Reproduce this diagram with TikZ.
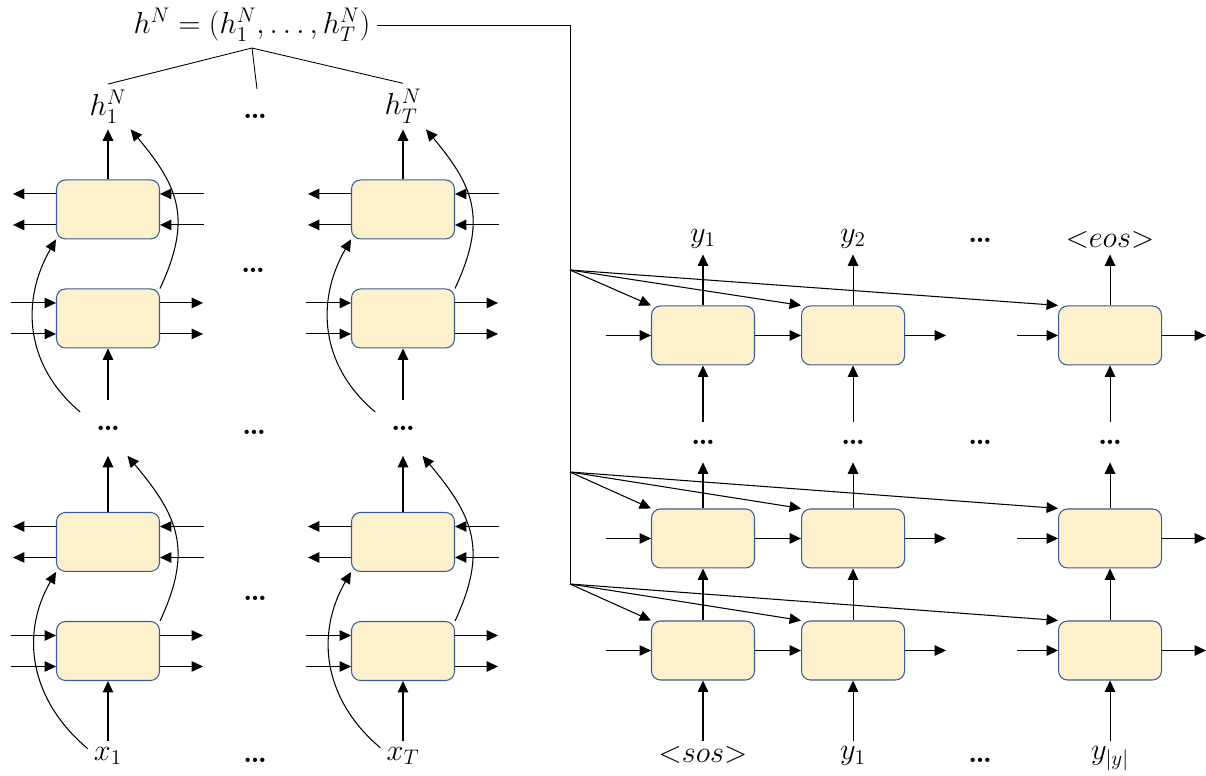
\documentclass[tikz,border=0pt]{standalone}
\usepackage{amsmath}
\usetikzlibrary{arrows.meta,positioning}

\definecolor{cellfill}{RGB}{252,240,205}
\definecolor{celldraw}{RGB}{62,90,150}

\begin{document}
\begin{tikzpicture}[
    x=0.02cm, y=-0.02cm,
    font=\fontsize{17}{20}\selectfont,
    cell/.style={
        draw=celldraw,
        fill=cellfill,
        rectangle,
        rounded corners=0.18cm,
        line width=0.6pt,
        minimum width=2.06cm,
        minimum height=1.18cm
    },
    elide/.style={
        font=\fontsize{17}{20}\selectfont\bfseries
    },
    stack/.style={
        elide,
        minimum width=1.1cm,
        minimum height=1.1cm
    },
    dstack/.style={
        elide,
        minimum height=0.8cm
    },
    arrow/.style={
        -{Triangle[length=6.5pt,width=6pt]},
        line width=0.6pt
    },
    wire/.style={
        line width=0.5pt
    }
]
\useasboundingbox (0,0) rectangle (1206,776);

% Encoder, first position
\node[cell] (f1a) at (108,651) {};
\node[cell, above=0.98cm of f1a] (b1a) {};
\node[cell, above=3.27cm of b1a] (f1b) {};
\node[cell, above=0.98cm of f1b] (b1b) {};
\node[below=1.2cm of f1a] (x1) {$x_1$};
\node[stack] (m1) at (f1b |- 0,428) {\dots};
\node[above=1cm of b1b] (h1) {$h_1^N$};

% Encoder, last position
\node[cell] (fTa) at (403,651) {};
\node[cell, above=0.98cm of fTa] (bTa) {};
\node[cell, above=3.27cm of bTa] (fTb) {};
\node[cell, above=0.98cm of fTb] (bTb) {};
\node[below=1.2cm of fTa] (xT) {$x_T$};
\node[stack] (mT) at (fTb |- 0,428) {\dots};
\node[above=1cm of bTb] (hT) {$h_T^N$};

% Skipped positions
\node[elide] (g1) at (255,116) {\dots};
\node[elide] (g2) at (253,270) {\dots};
\node[elide] (g3) at (254,432) {\dots};
\node[elide] (g4) at (255,598) {\dots};
\node[elide] (g5) at (255,760) {\dots};
\node[elide] (g6) at (980,240) {\dots};
\node[elide] (g7) at (980,442) {\dots};
\node[elide] (g8) at (980,760) {\dots};

% Encoder output
\node (hN) at (252,25) {$h^N = (h_1^N, \dots, h_T^N)$};
\coordinate (hmid) at (257,89);

% Decoder, bottom layer
\node[cell] (da1) at (703,650.5) {};
\node[cell, right=0.92cm of da1] (da2) {};
\node[cell, right=3.06cm of da2] (da3) {};
% Decoder, second layer
\node[cell, above=1.04cm of da1] (db1) {};
\node[cell, above=1.04cm of da2] (db2) {};
\node[cell, above=1.04cm of da3] (db3) {};
% Decoder, top layer
\node[cell, above=2.86cm of db1] (dc1) {};
\node[cell, above=2.86cm of db2] (dc2) {};
\node[cell, above=2.86cm of db3] (dc3) {};
\node[dstack] (md1) at (db1 |- 0,442) {\dots};
\node[dstack] (md2) at (db2 |- 0,442) {\dots};
\node[dstack] (md3) at (db3 |- 0,442) {\dots};

% Decoder inputs and outputs
\node[below=1.2cm of da1] (s1) {${<}sos{>}$};
\node[below=1.2cm of da2] (s2) {$y_1$};
\node[below=1.2cm of da3] (s3) {$y_{|y|}$};
\node[above=1.02cm of dc1] (o1) {$y_1$};
\node[above=1.02cm of dc2] (o2) {$y_2$};
\node[above=1.02cm of dc3] (o3) {${<}eos{>}$};

% Gathering the encoder states
\draw[wire] (hN.south) -- (h1.north);
\draw[wire] (hN.south) -- (hmid);
\draw[wire] (hN.south) -- (hT.north);

% Column 1
\draw[arrow] (x1) -- (f1a);
\draw[arrow] (x1.160) to[out=140, in=-120, looseness=1.05] (b1a.south west);
\draw[arrow] (b1a) -- (m1);
\draw[arrow] (f1a.north east) to[out=65, in=-50, looseness=1.2] (m1.-55);
\draw[arrow] (m1) -- (f1b);
\draw[arrow] (m1.150) to[out=140, in=-120, looseness=1.05] (b1b.south west);
\draw[arrow] (b1b) -- (h1);
\draw[arrow] (f1b.north east) to[out=65, in=-50, looseness=1.2] (h1.-45);

% Column T
\draw[arrow] (xT) -- (fTa);
\draw[arrow] (xT.160) to[out=140, in=-120, looseness=1.05] (bTa.south west);
\draw[arrow] (bTa) -- (mT);
\draw[arrow] (fTa.north east) to[out=65, in=-50, looseness=1.2] (mT.-55);
\draw[arrow] (mT) -- (fTb);
\draw[arrow] (mT.150) to[out=140, in=-120, looseness=1.05] (bTb.south west);
\draw[arrow] (bTb) -- (hT);
\draw[arrow] (fTb.north east) to[out=65, in=-50, looseness=1.2] (hT.-45);

% Forward and backward recurrences
\foreach \c in {f1a,f1b,fTa,fTb} {
    \foreach \dy in {0.31cm,-0.31cm} {
        \draw[arrow] ([xshift=-0.9cm,yshift=\dy]\c.west) -- ([yshift=\dy]\c.west);
        \draw[arrow] ([yshift=\dy]\c.east) -- ([xshift=0.86cm,yshift=\dy]\c.east);
    }
}
\foreach \c in {b1a,b1b,bTa,bTb} {
    \foreach \dy in {0.31cm,-0.31cm} {
        \draw[arrow] ([yshift=\dy]\c.west) -- ([xshift=-0.86cm,yshift=\dy]\c.west);
        \draw[arrow] ([xshift=0.88cm,yshift=\dy]\c.east) -- ([yshift=\dy]\c.east);
    }
}

% Encoder states to every decoder layer
\coordinate (tapc) at (570,270);
\coordinate (tapb) at (570,472);
\coordinate (tapa) at (570,584);
\draw[wire] (hN.east) -| (tapa);
\foreach \r in {a,b,c} {
    \foreach \k in {1,2,3}
        \draw[arrow] (tap\r) -- (d\r\k.north west);
}

% Decoder recurrence
\foreach \r in {a,b,c} {
    \draw[arrow] ([xshift=-0.9cm]d\r1.west) -- (d\r1.west);
    \draw[arrow] (d\r1) -- (d\r2);
    \draw[arrow] (d\r2.east) -- ++(0.82cm,0);
    \draw[arrow] ([xshift=-0.82cm]d\r3.west) -- (d\r3.west);
    \draw[arrow] (d\r3.east) -- ++(0.88cm,0);
}

% Decoder layers
\foreach \k in {1,2,3} {
    \draw[arrow] (s\k) -- (da\k);
    \draw[arrow] (da\k) -- (db\k);
    \draw[arrow] (db\k) -- (md\k);
    \draw[arrow] (md\k) -- (dc\k);
    \draw[arrow] (dc\k) -- (o\k);
}

\end{tikzpicture}
\end{document}
